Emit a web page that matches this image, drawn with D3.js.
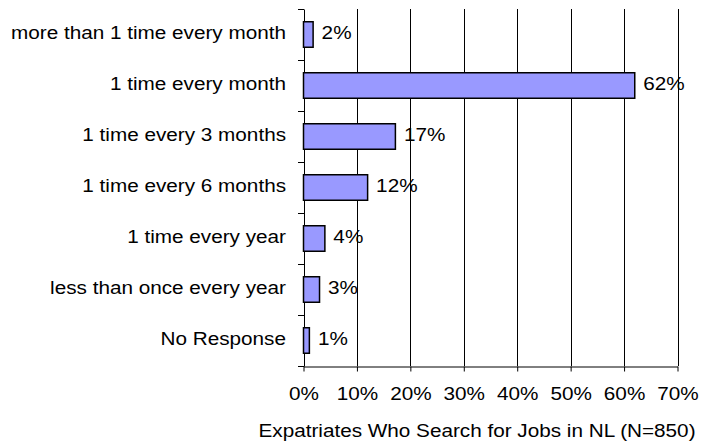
<!DOCTYPE html>
<html><head><meta charset="utf-8">
<script src="https://cdn.jsdelivr.net/npm/d3@7/dist/d3.min.js"></script>
<style>
body{margin:0;background:#fff;}
text{font-family:"Liberation Sans",Arial,sans-serif;fill:#000;}
</style></head>
<body><svg id="c" width="702" height="442"></svg>
<script>
const categories = ["more than 1 time every month","1 time every month","1 time every 3 months","1 time every 6 months","1 time every year","less than once every year","No Response"];
const values = [1.8, 62, 17.2, 12, 4, 3, 1.1];
const valueLabels = ["2%","62%","17%","12%","4%","3%","1%"];
const xTicks = [0,10,20,30,40,50,60,70];
const xTitle = "Expatriates Who Search for Jobs in NL (N=850)";

const FS = "18.5px", SX = 1.12;
const svg = d3.select("#c");
const L = 303.5, R = 677.5, T = 9, B = 366;
const x = d3.scaleLinear().domain([0,70]).range([L,R]);
const y = d3.scaleBand().domain(categories).range([T,B]).paddingInner(0.5).paddingOuter(0.25);
const yl = d3.scaleLinear().domain([0,categories.length]).range([T,B]);

// gridlines
svg.append("g").selectAll("line").data(xTicks.filter(d=>d>0)).join("line")
  .attr("x1",d=>Math.round(x(d))+0.5).attr("x2",d=>Math.round(x(d))+0.5)
  .attr("y1",T).attr("y2",B).attr("stroke","#000").attr("stroke-width",1);

// x axis
const xa = svg.append("g").attr("transform",`translate(0,${B+0.5})`)
  .call(d3.axisBottom(x).tickValues(xTicks).tickFormat(d=>d+"%").tickSize(5).tickSizeOuter(0).tickPadding(15));
xa.select(".domain").attr("stroke","#000");
xa.selectAll(".tick line").attr("stroke","#000");
xa.selectAll("text").style("font-size",FS).attr("fill","#000").attr("transform",`scale(${SX},1)`);

// y axis
const ya = svg.append("g").attr("transform",`translate(${Math.round(L)},0)`)
  .call(d3.axisLeft(yl).tickValues(d3.range(categories.length+1)).tickFormat("").tickSize(6).tickSizeOuter(0));
ya.select(".domain").attr("stroke","#000");
ya.selectAll(".tick line").attr("stroke","#000");

// category labels
svg.append("g").selectAll("text").data(categories).join("text")
  .attr("transform",d=>`translate(286,${y(d)+y.bandwidth()/2}) scale(${SX},1)`).attr("dy","0.26em")
  .attr("text-anchor","end").style("font-size",FS).text(d=>d);

// bars
svg.append("g").selectAll("rect").data(values).join("rect")
  .attr("x",x(0)).attr("y",(d,i)=>y(categories[i]))
  .attr("width",d=>x(d)-x(0)).attr("height",y.bandwidth())
  .attr("fill","#9999FF").attr("stroke","#000").attr("stroke-width",1.5);

// value labels
svg.append("g").selectAll("text").data(values).join("text")
  .attr("transform",(d,i)=>`translate(${x(d)+8.5},${y(categories[i])+y.bandwidth()/2}) scale(${SX},1)`).attr("dy","0.26em")
  .style("font-size",FS).text((d,i)=>valueLabels[i]);

// title
svg.append("text").attr("transform",`translate(477,437) scale(${SX},1)`).attr("text-anchor","middle")
  .style("font-size",FS).text(xTitle);
</script></body></html>
